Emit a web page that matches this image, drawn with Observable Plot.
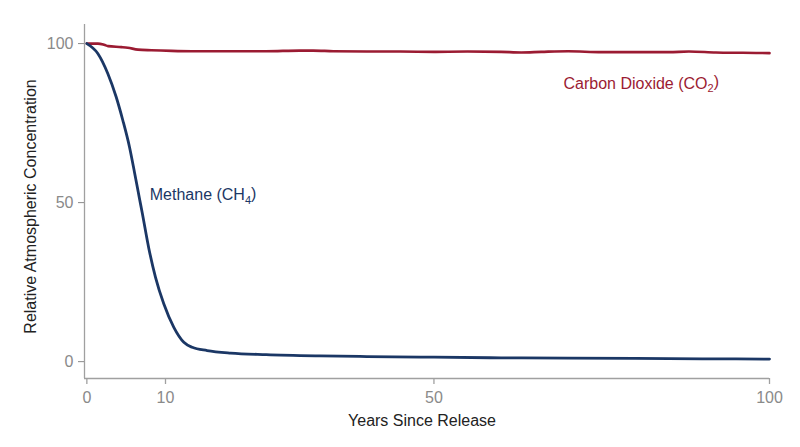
<!DOCTYPE html>
<html>
<head>
<meta charset="utf-8">
<script src="https://cdn.jsdelivr.net/npm/d3@7"></script>
<script src="https://cdn.jsdelivr.net/npm/@observablehq/plot@0.6"></script>
<style>
  html, body { margin: 0; padding: 0; background: #fff; }
  #chart svg { display: block; }
</style>
</head>
<body>
<div id="chart"></div>
<script>
// ---- data ----
const co2Years = [0, 1.4, 2.2, 2.7, 4.4, 5.2, 6.5, 8.2, 10.9, 13.9, 20, 25, 30, 32, 35, 40, 45, 50, 55, 60, 63, 66, 70, 75, 80, 85, 88, 92, 96, 100];
const co2Values = [100, 100, 99.6, 99.2, 98.9, 98.7, 98.1, 97.9, 97.7, 97.6, 97.6, 97.6, 97.8, 97.8, 97.6, 97.5, 97.5, 97.4, 97.5, 97.4, 97.2, 97.4, 97.6, 97.3, 97.3, 97.3, 97.5, 97.2, 97.1, 97.0];

const ch4Years = [0, 1.39, 2.66, 3.73, 4.57, 5.42, 6.06, 6.69, 7.04, 7.88, 8.73, 9.78, 11.24, 12.73, 13.98, 16.2, 19.7, 25, 33, 40, 50, 60, 70, 80, 90, 100];
const ch4Values = [100, 96.9, 90.6, 83.2, 75.9, 67.5, 59.5, 51.3, 46.8, 35.6, 26.5, 18.2, 10.8, 6.1, 4.5, 3.5, 2.7, 2.2, 1.8, 1.6, 1.4, 1.2, 1.1, 1.0, 0.9, 0.8];

const xTicks = [0, 10, 50, 100];
const yTicks = [0, 50, 100];

const seriesNames = ["Carbon Dioxide (CO₂)", "Methane (CH₄)"];
const labelX = [69.3, 8.0];
const labelY = [87.4, 52.3];

const xTitle = "Years Since Release";
const yTitle = "Relative Atmospheric Concentration";

// ---- build table ----
const co2Data = co2Years.map((x, i) => ({x, y: co2Values[i]}));
const ch4Data = ch4Years.map((x, i) => ({x, y: ch4Values[i]}));
const labels = seriesNames.map((name, i) => ({name, x: labelX[i], y: labelY[i]}));

const RED = "#9b1b32";
const NAVY = "#1b3765";
const GRAY = "#8a8a8a";
const AXIS = "#a0a0a0";
const xMin = -0.3, xBreak = 10, xMax = 100;
const yDom = [-5.3, 106];

// piecewise-linear x axis (first decade is stretched, as in the reference)
const firstSpan = 81, restSpan = 604;
const xWarp = (v) => v <= xBreak
  ? (v - xMin) / (xBreak - xMin) * firstSpan
  : firstSpan + (v - xBreak) / (xMax - xBreak) * restSpan;

const chart = Plot.plot({
  width: 800,
  height: 447,
  marginTop: 24,
  marginBottom: 69,
  marginLeft: 84,
  marginRight: 31,
  style: {fontFamily: "'Liberation Sans', Arial, sans-serif", background: "#fff"},
  x: {transform: xWarp, axis: null},
  y: {domain: yDom},
  marks: [
    Plot.ruleY([yDom[0]], {x1: xMin, x2: xMax, stroke: AXIS, strokeWidth: 1.3}),
    Plot.ruleX([xMin], {y1: yDom[0], y2: yDom[1], stroke: AXIS, strokeWidth: 1.3}),
    // x ticks and labels (drawn through the warped x scale)
    Plot.ruleX(xTicks, {x: d => d, y1: yDom[0], y2: yDom[0], insetBottom: -6, stroke: AXIS, strokeWidth: 1.3}),
    Plot.text(xTicks, {x: d => d, y: yDom[0], text: d => String(d), dy: 19, lineAnchor: "middle", fontSize: 16, fill: GRAY}),
    Plot.axisY({ticks: yTicks, tickSize: 6, tickPadding: 5, fontSize: 16, color: GRAY, label: null}),
    Plot.text([xTitle], {frameAnchor: "bottom", dy: 42, dx: -5, fontSize: 16, fill: "#222", lineAnchor: "middle"}),
    Plot.text([yTitle], {frameAnchor: "left", textAnchor: "middle", dx: -54, dy: 5, rotate: -90, fontSize: 16, fill: "#222"}),
    Plot.line(co2Data, {x: "x", y: "y", stroke: RED, strokeWidth: 2.6, curve: "monotone-x"}),
    Plot.line(ch4Data, {x: "x", y: "y", stroke: NAVY, strokeWidth: 2.8, curve: "monotone-x"}),
    Plot.text(labels, {x: "x", y: "y", text: "name", textAnchor: "start", fontSize: 16, fill: (d, i) => i === 0 ? RED : NAVY})
  ]
});
document.getElementById("chart").appendChild(chart);

// render subscript digits as real subscripts (tspans) for nicer typography
const subMap = {"₂": "2", "₄": "4"};
d3.select(chart).selectAll("text").each(function () {
  const t = this.textContent;
  const m = t.match(/^(.*)([₂₄])(\))$/);
  if (!m) return;
  const el = d3.select(this);
  el.text(null);
  el.append("tspan").text(m[1]);
  el.append("tspan").attr("font-size", 11).attr("dy", "0.3em").text(subMap[m[2]]);
  el.append("tspan").attr("dy", "-0.3em").text(m[3]);
});
</script>
</body>
</html>
